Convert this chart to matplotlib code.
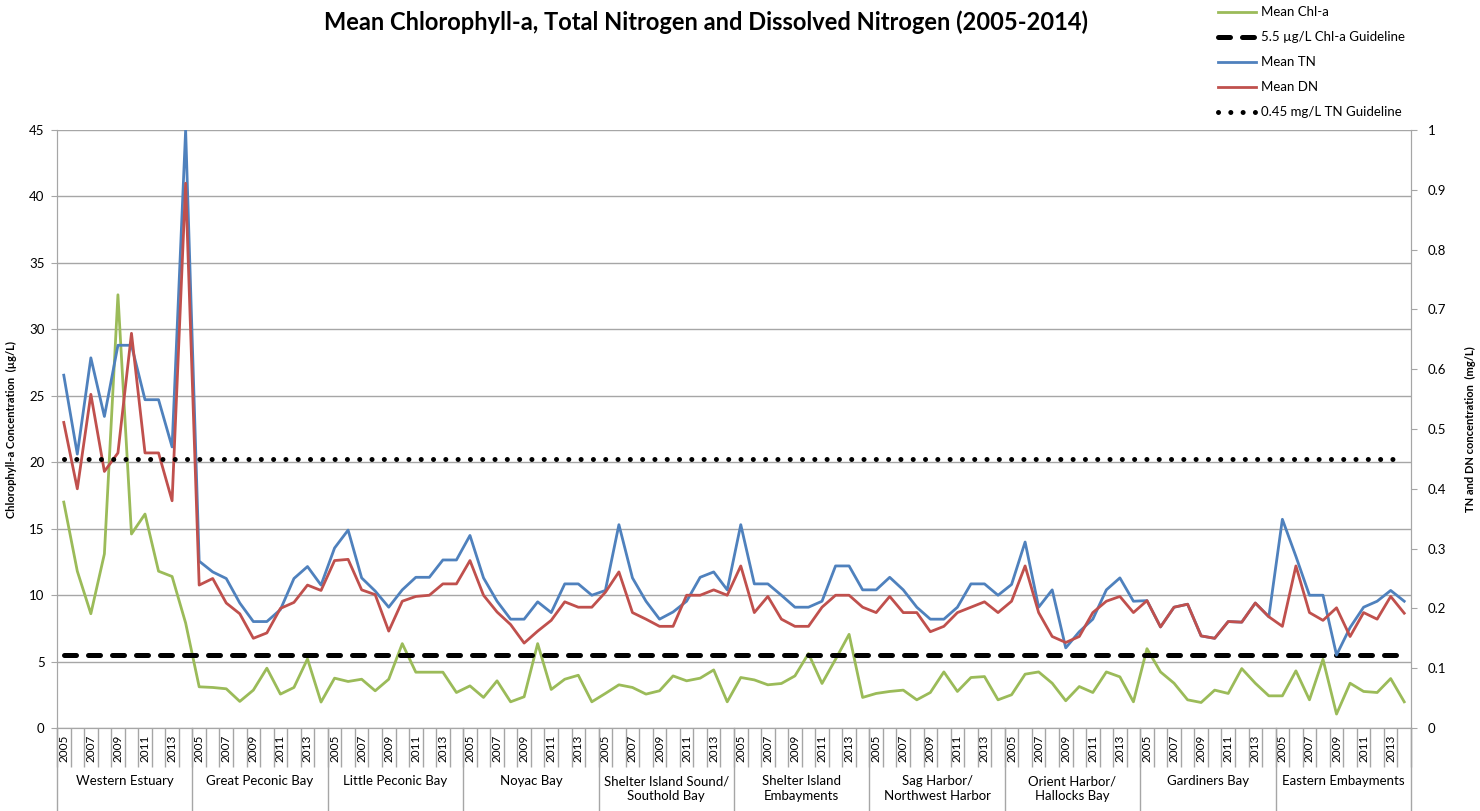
"""Mean Chl-a, TN and DN by region and year (2005-2014), Excel-style combo chart."""

import matplotlib
matplotlib.use("Agg")
import matplotlib.pyplot as plt
from matplotlib.lines import Line2D

plt.rcParams["font.family"] = ["Lato", "DejaVu Sans"]

REGIONS = ["Western Estuary", "Great Peconic Bay", "Little Peconic Bay", "Noyac Bay",
           "Shelter Island Sound/\nSouthold Bay", "Shelter Island\nEmbayments",
           "Sag Harbor/\nNorthwest Harbor", "Orient Harbor/\nHallocks Bay",
           "Gardiners Bay", "Eastern Embayments"]
YEARS = list(range(2005, 2015))

# Mean Chl-a, µg/L (10 years per region, in region order)
CHLA = [17.0, 11.8, 8.6, 13.1, 32.6, 14.6, 16.1, 11.8, 11.4, 7.9,
        3.1, 3.05, 2.95, 2.0, 2.85, 4.5, 2.55, 3.05, 5.2, 1.95,
        3.75, 3.5, 3.67, 2.8, 3.67, 6.35, 4.2, 4.2, 4.2, 2.67,
        3.17, 2.3, 3.55, 1.97, 2.35, 6.35, 2.9, 3.67, 3.97, 1.97,
        2.6, 3.25, 3.05, 2.55, 2.8, 3.92, 3.55, 3.75, 4.37, 1.97,
        3.8, 3.62, 3.25, 3.35, 3.92, 5.6, 3.35, 5.17, 7.05, 2.3,
        2.6, 2.75, 2.85, 2.12, 2.67, 4.22, 2.75, 3.8, 3.87, 2.12,
        2.5, 4.05, 4.22, 3.37, 2.05, 3.12, 2.67, 4.22, 3.85, 1.97,
        5.97, 4.22, 3.37, 2.12, 1.92, 2.85, 2.6, 4.47, 3.37, 2.42,
        2.42, 4.3, 2.12, 5.17, 1.05, 3.37, 2.75, 2.67, 3.72, 1.97]

# Mean TN, mg/L
TN = [0.59, 0.458, 0.619, 0.521, 0.64, 0.64, 0.549, 0.549, 0.47, 1.0,
      0.279, 0.261, 0.25, 0.209, 0.178, 0.178, 0.198, 0.25, 0.27, 0.239,
      0.301, 0.331, 0.251, 0.229, 0.202, 0.231, 0.252, 0.252, 0.281, 0.281,
      0.322, 0.251, 0.212, 0.182, 0.182, 0.211, 0.193, 0.241, 0.241, 0.222,
      0.23, 0.34, 0.251, 0.212, 0.182, 0.194, 0.212, 0.252, 0.261, 0.231,
      0.34, 0.241, 0.241, 0.222, 0.202, 0.202, 0.212, 0.271, 0.271, 0.231,
      0.231, 0.252, 0.231, 0.202, 0.182, 0.182, 0.202, 0.241, 0.241, 0.222,
      0.24, 0.311, 0.202, 0.231, 0.134, 0.161, 0.182, 0.231, 0.251, 0.212,
      0.213, 0.169, 0.202, 0.207, 0.154, 0.15, 0.178, 0.177, 0.209, 0.186,
      0.349, 0.287, 0.222, 0.222, 0.122, 0.168, 0.202, 0.212, 0.23, 0.212]

# Mean DN, mg/L
DN = [0.511, 0.40, 0.558, 0.429, 0.46, 0.66, 0.46, 0.46, 0.38, 0.911,
      0.239, 0.25, 0.209, 0.191, 0.15, 0.159, 0.2, 0.21, 0.239, 0.23,
      0.28, 0.282, 0.231, 0.223, 0.162, 0.212, 0.22, 0.222, 0.241, 0.241,
      0.28, 0.222, 0.194, 0.173, 0.142, 0.162, 0.18, 0.211, 0.202, 0.202,
      0.227, 0.261, 0.193, 0.182, 0.17, 0.17, 0.222, 0.222, 0.231, 0.222,
      0.271, 0.193, 0.22, 0.182, 0.17, 0.17, 0.202, 0.222, 0.222, 0.202,
      0.193, 0.22, 0.193, 0.193, 0.161, 0.17, 0.193, 0.202, 0.211, 0.193,
      0.212, 0.271, 0.193, 0.153, 0.143, 0.153, 0.193, 0.212, 0.22, 0.193,
      0.213, 0.169, 0.202, 0.207, 0.154, 0.15, 0.178, 0.177, 0.209, 0.186,
      0.17, 0.271, 0.193, 0.18, 0.201, 0.153, 0.193, 0.182, 0.22, 0.192]

CHLA_GUIDE = 5.5
TN_GUIDE = 0.45

GREEN, BLUE, RED = "#9bbb59", "#4f81bd", "#c0504d"
GRID = "#a6a6a6"
W, H = 1480, 811
DASHED = dict(color="black", lw=3.6, dashes=(2.4, 2.4), dash_capstyle="round")
DOTTED = dict(color="black", lw=3.6, dashes=(0.01, 2.45), dash_capstyle="round")


def main() -> None:
    fig = plt.figure(figsize=(W / 100, H / 100), dpi=100)
    ax = fig.add_axes([57 / W, 1 - 728 / H, (1411 - 57) / W, (728 - 130) / H])
    ax2 = ax.twinx()
    n = len(CHLA)
    x = list(range(n))

    # left axis: Chl-a + guideline; right axis: TN, DN + guideline
    ax.plot(x, CHLA, color=GREEN, lw=2)
    ax.plot(x, [CHLA_GUIDE] * n, **DASHED)
    ax2.plot(x, TN, color=BLUE, lw=2)
    ax2.plot(x, DN, color=RED, lw=2)
    ax2.plot(x, [TN_GUIDE] * n, **DOTTED)

    ax.set_ylim(0, 45)
    ax.set_yticks(range(0, 46, 5))
    ax2.set_ylim(0, 1)
    ax2.set_yticks([i / 10 for i in range(11)])
    ax2.set_yticklabels(["0"] + [f"{i / 10:g}" for i in range(1, 11)])
    ax.set_xlim(-0.5, n - 0.5)
    ax.grid(axis="y", color=GRID, lw=1)
    ax.set_axisbelow(True)

    for a in (ax, ax2):
        a.spines["top"].set_visible(False)
        for side in ("left", "right", "bottom"):
            a.spines[side].set_color(GRID)
    ax.tick_params(axis="y", length=4, color=GRID, labelsize=9.5, pad=5)
    ax2.tick_params(axis="y", length=4, color=GRID, labelsize=9.5, pad=8)

    # category axis: year labels on odd years, separators every year
    labels = [str(y) if (y - 2005) % 2 == 0 else "" for _ in REGIONS for y in YEARS]
    ax.set_xticks(x)
    ax.set_xticklabels(labels, rotation=90, fontsize=8.5)
    ax.set_xticks([i - 0.5 for i in range(n + 1)], minor=True)
    ax.tick_params(axis="x", which="major", length=0, pad=5)
    ax.tick_params(axis="x", which="minor", length=28, color=GRID, width=1)

    tr = ax.get_xaxis_transform()
    drop = (H - 728) / (728 - 130)
    for g, name in enumerate(REGIONS):
        b = g * 10 - 0.5
        ax.plot([b, b], [0, -drop], color=GRID, lw=1, transform=tr, clip_on=False)
        ax.text(g * 10 + 4.5, -(775 - 728) / (728 - 130), name, transform=tr,
                ha="center", va="top", fontsize=9.5, linespacing=1.3)
    ax.plot([n - 0.5, n - 0.5], [0, -drop], color=GRID, lw=1, transform=tr, clip_on=False)

    ax.set_ylabel("Chlorophyll-a Concentration  (µg/L)", fontsize=8, fontweight="bold")
    ax.yaxis.set_label_coords(-(57 - 17) / (1411 - 57), 0.5)
    ax2.set_ylabel("TN and DN concentration  (mg/L)", fontsize=8, fontweight="bold",
                   rotation=90)
    ax2.yaxis.set_label_coords(1 + (1465 - 1411) / (1411 - 57), 0.5)

    fig.text(706 / W, 1 - 22 / H, "Mean Chlorophyll-a, Total Nitrogen and Dissolved Nitrogen (2005-2014)",
             ha="center", va="center", fontsize=17, fontweight="bold")

    # legend, stacked in the top-right corner
    entries = [("Mean Chl-a", dict(color=GREEN, lw=2)),
               ("5.5 µg/L Chl-a Guideline", DASHED),
               ("Mean TN", dict(color=BLUE, lw=2)),
               ("Mean DN", dict(color=RED, lw=2)),
               ("0.45 mg/L TN Guideline", DOTTED)]
    for k, (text, style) in enumerate(entries):
        yy = 1 - (12 + 25 * k) / H
        fig.add_artist(Line2D([1218 / W, 1256 / W], [yy, yy], transform=fig.transFigure, **style))
        fig.text(1261 / W, yy, text, ha="left", va="center", fontsize=9.5)

    fig.savefig("out.png", dpi=100)
    plt.close(fig)


if __name__ == "__main__":
    main()
